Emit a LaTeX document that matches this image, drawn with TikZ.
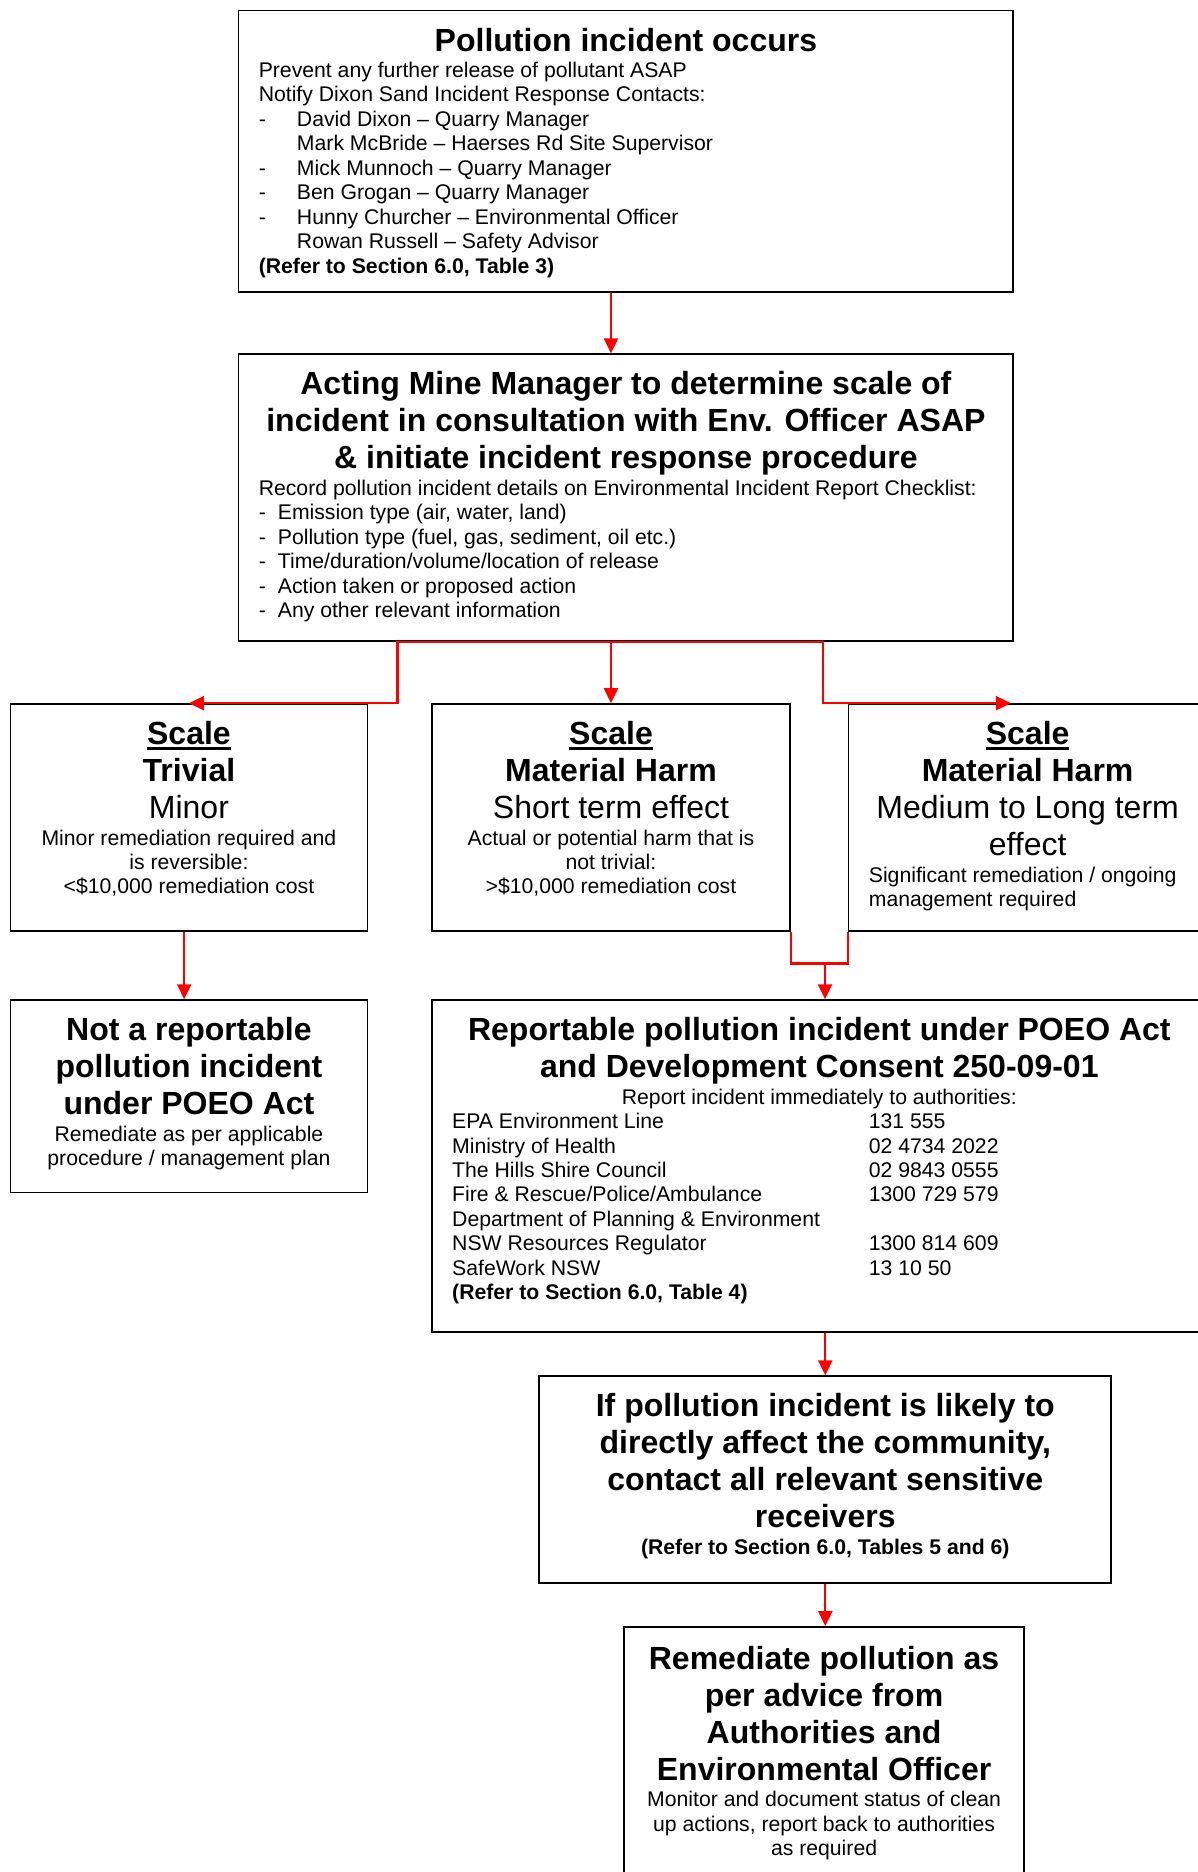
\documentclass[tikz,border=0pt]{standalone}
\usepackage{fontspec}
\setmainfont{Liberation Sans}
\usetikzlibrary{arrows.meta}
\setlength{\unitlength}{0.5967pt}
\newcommand{\headfont}{\fontsize{16pt}{18.5pt}\selectfont\bfseries}
\newcommand{\plainbig}{\fontsize{16pt}{18.5pt}\selectfont}
\newcommand{\smallfont}{\fontsize{10.6pt}{12.23pt}\selectfont}
\newcommand{\firstline}{\rule{0pt}{20.3pt}}
\newcommand{\ulscale}[1]{\leavevmode\setbox0=\hbox{#1}\rlap{\rule[-2.4pt]{\wd0}{1.2pt}}\box0}

\begin{document}
\begin{tikzpicture}[x=\unitlength,y=-\unitlength,
  box/.style={draw,line width=0.9pt,inner sep=0pt,anchor=north west},
  link/.style={red,line width=1.1pt},
  flow/.style={link,-{Triangle[length=7.5pt,width=7pt]}}]
\useasboundingbox (0,0) rectangle (1003,1568);

\node[box](inc) at (199,8) {\parbox[c][236\unitlength][t]{649\unitlength}{%
  {\centering\headfont\firstline Pollution incident occurs\par}\vspace{0.9pt}
  {\smallfont\raggedright\leftskip=17\unitlength
  Prevent any further release of pollutant ASAP\\
  Notify Dixon Sand Incident Response Contacts:\\
  \makebox[32\unitlength][l]{-}David Dixon -- Quarry Manager\\
  \hspace*{32\unitlength}Mark McBride -- Haerses Rd Site Supervisor\\
  \makebox[32\unitlength][l]{-}Mick Munnoch -- Quarry Manager\\
  \makebox[32\unitlength][l]{-}Ben Grogan -- Quarry Manager\\
  \makebox[32\unitlength][l]{-}Hunny Churcher -- Environmental Officer\\
  \hspace*{32\unitlength}Rowan Russell -- Safety Advisor\\
  \textbf{(Refer to Section 6.0, Table 3)}\par}}};

\node[box](acting) at (199,296) {\parbox[c][240\unitlength][t]{649\unitlength}{%
  {\centering\headfont\firstline Acting Mine Manager to determine scale of\\
  incident in consultation with Env. Officer ASAP\\
  \& initiate incident response procedure\par}\vspace{0.9pt}
  {\smallfont\raggedright\leftskip=17\unitlength
  Record pollution incident details on Environmental Incident Report Checklist:\\
  \makebox[16\unitlength][l]{-}Emission type (air, water, land)\\
  \makebox[16\unitlength][l]{-}Pollution type (fuel, gas, sediment, oil etc.)\\
  \makebox[16\unitlength][l]{-}Time/duration/volume/location of release\\
  \makebox[16\unitlength][l]{-}Action taken or proposed action\\
  \makebox[16\unitlength][l]{-}Any other relevant information\par}}};

\node[box](trivial) at (8,589) {\parbox[c][190\unitlength][t]{299\unitlength}{%
  {\centering\headfont\firstline\ulscale{Scale}\\Trivial\par}
  {\centering\plainbig Minor\par}\vspace{0.9pt}
  {\centering\smallfont Minor remediation required and\\is reversible:\\
  <\$10,000 remediation cost\par}}};

\node[box](shortterm) at (361,589) {\parbox[c][190\unitlength][t]{300\unitlength}{%
  {\centering\headfont\firstline\ulscale{Scale}\\Material Harm\par}
  {\centering\plainbig Short term effect\par}\vspace{0.9pt}
  {\centering\smallfont Actual or potential harm that is\\not trivial:\\
  >\$10,000 remediation cost\par}}};

\node[box](longterm) at (710,589) {\parbox[c][190\unitlength][t]{300\unitlength}{%
  {\centering\headfont\firstline\ulscale{Scale}\\Material Harm\par}
  {\centering\plainbig Medium to Long term\\effect\par}\vspace{0.9pt}
  {\smallfont\raggedright\leftskip=17\unitlength
  Significant remediation / ongoing\\management required\par}}};

\node[box](notrep) at (8,837) {\parbox[c][161\unitlength][t]{299\unitlength}{%
  {\centering\headfont\firstline Not a reportable\\pollution incident\\under POEO Act\par}\vspace{0.9pt}
  {\centering\smallfont Remediate as per applicable\\procedure / management plan\par}}};

\node[box](report) at (361,837) {\parbox[c][278\unitlength][t]{649\unitlength}{%
  {\centering\headfont\firstline Reportable pollution incident under POEO Act\\
  and Development Consent 250-09-01\par}\vspace{0.9pt}
  {\centering\smallfont Report incident immediately to authorities:\par}
  {\smallfont\raggedright\leftskip=17\unitlength
  \makebox[349\unitlength][l]{EPA Environment Line}131 555\\
  \makebox[349\unitlength][l]{Ministry of Health}02 4734 2022\\
  \makebox[349\unitlength][l]{The Hills Shire Council}02 9843 0555\\
  \makebox[349\unitlength][l]{Fire \& Rescue/Police/Ambulance}1300 729 579\\
  Department of Planning \& Environment\\
  \makebox[349\unitlength][l]{NSW Resources Regulator}1300 814 609\\
  \makebox[349\unitlength][l]{SafeWork NSW}13 10 50\\
  \textbf{(Refer to Section 6.0, Table 4)}\par}}};

\node[box](community) at (451,1152) {\parbox[c][173\unitlength][t]{479\unitlength}{%
  {\centering\headfont\firstline If pollution incident is likely to\\
  directly affect the community,\\contact all relevant sensitive\\receivers\par}\vspace{0.9pt}
  {\centering\smallfont\bfseries (Refer to Section 6.0, Tables 5 and 6)\par}}};

\node[box](remed) at (522,1362) {\parbox[c][240\unitlength][t]{335\unitlength}{%
  {\centering\headfont\rule{0pt}{21.2pt}Remediate pollution as\\per advice from\\
  Authorities and\\Environmental Officer\par}\vspace{0.9pt}
  {\centering\smallfont Monitor and document status of clean\\
  up actions, report back to authorities\\as required\par}}};

% connectors
\draw[flow](inc.south -| shortterm)--(acting.north -| shortterm);
\draw[flow](acting.south -| shortterm)--(shortterm.north);
\draw[link,{Triangle[length=7.5pt,width=7pt]}-{Triangle[length=7.5pt,width=7pt]}]
  (trivial.north) -| ([xshift=134\unitlength]acting.south west)
  -- ([xshift=-160\unitlength]acting.south east) |- ([xshift=-14\unitlength]longterm.north);
\draw[flow]([xshift=-4\unitlength]trivial.south)--([xshift=-4\unitlength]notrep.north);
\coordinate (merge) at (691,807);
\draw[link](shortterm.south east) |- (merge) -| (longterm.south west);
\draw[flow](merge)--(merge |- report.north);
\draw[flow](report.south -| community)--(community.north);
\draw[flow](community.south)--(community.south |- remed.north);
\end{tikzpicture}
\end{document}
